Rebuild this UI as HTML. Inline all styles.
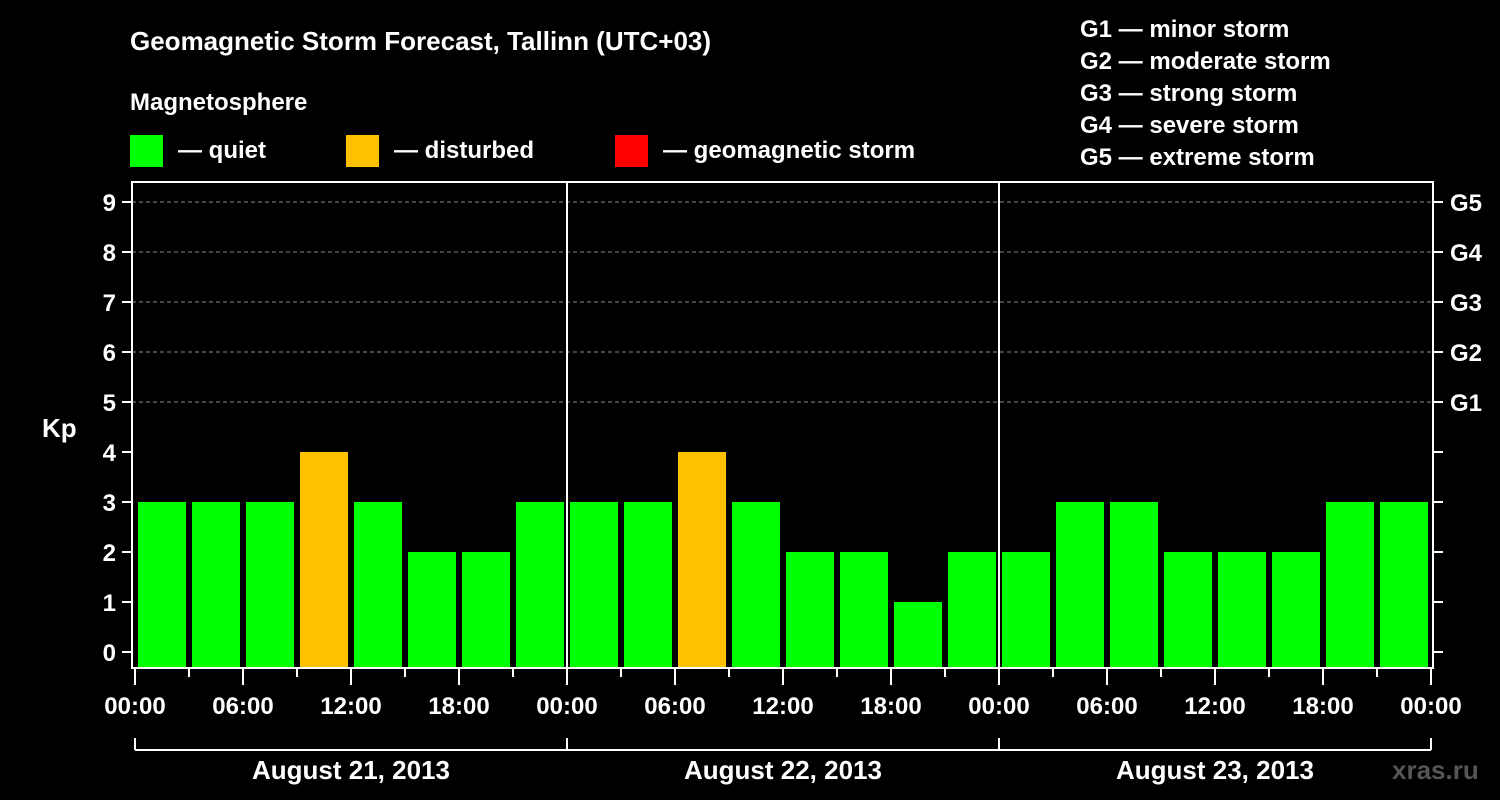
<!DOCTYPE html>
<html><head><meta charset="utf-8"><style>
html,body{margin:0;padding:0;background:#000;}
svg{display:block;font-family:"Liberation Sans",Arial,sans-serif;font-weight:bold;}
</style></head><body>
<svg id="c" width="1500" height="800" viewBox="0 0 1500 800">
<rect x="0" y="0" width="1500" height="800" fill="#000"/>
<text x="130" y="50" fill="#fff" font-size="26">Geomagnetic Storm Forecast, Tallinn (UTC+03)</text>
<text x="130" y="110" fill="#fff" font-size="24">Magnetosphere</text>
<g><rect x="130" y="135" width="33" height="32" fill="#00ff00"/><text x="178" y="158" fill="#fff" font-size="24">— quiet</text></g>
<g><rect x="346" y="135" width="33" height="32" fill="#ffc000"/><text x="394" y="158" fill="#fff" font-size="24">— disturbed</text></g>
<g><rect x="615" y="135" width="33" height="32" fill="#ff0000"/><text x="663" y="158" fill="#fff" font-size="24">— geomagnetic storm</text></g>
<g fill="#fff" font-size="24">
<text x="1080" y="37">G1 — minor storm</text>
<text x="1080" y="69">G2 — moderate storm</text>
<text x="1080" y="101">G3 — strong storm</text>
<text x="1080" y="133">G4 — severe storm</text>
<text x="1080" y="165">G5 — extreme storm</text>
</g>
<text x="42" y="437" fill="#fff" font-size="26">Kp</text>
<text x="1392" y="779" fill="#555" font-size="26">xras.ru</text>
<g id="plot"></g>
</svg>
<script>
const kpValues = [3,3,3,4,3,2,2,3, 3,3,4,3,2,2,1,2, 2,3,3,2,2,2,3,3];
const yTicks = [0,1,2,3,4,5,6,7,8,9];
const gLabels = ["G1","G2","G3","G4","G5"];
const gLevels = [5,6,7,8,9];
const timeLabels = ["00:00","06:00","12:00","18:00"];
const dayLabels = ["August 21, 2013","August 22, 2013","August 23, 2013"];

const NS="http://www.w3.org/2000/svg";
const g=document.getElementById('plot');
const X0=135, SLOT=54, Y0=652, UNIT=50, LEFT=132, RIGHT=1433, TOP=182, BOT=668;
const xOf=i=>X0+i*SLOT;
const yOf=v=>Y0-v*UNIT;
function mk(t,a,txt){const e=document.createElementNS(NS,t);for(const k in a)e.setAttribute(k,a[k]);if(txt!==undefined)e.textContent=txt;g.appendChild(e);return e;}

// gridlines
yTicks.forEach(v=>{if(v>=5){const l=mk('line',{x1:LEFT,x2:RIGHT,y1:yOf(v),y2:yOf(v),stroke:'#888','stroke-width':1,'stroke-dasharray':'4,3'});

}});
// bars
kpValues.forEach((v,i)=>{const c=v>=5?'#ff0000':(v>=4?'#ffc000':'#00ff00');
const r=mk('rect',{x:xOf(i)+3,y:yOf(v),width:48,height:BOT-yOf(v),fill:c});

});
// frame
const fr=mk('rect',{x:LEFT,y:TOP,width:RIGHT-LEFT,height:BOT-TOP,fill:'none',stroke:'#fff','stroke-width':2});


// day separators
for(let d=1;d<dayLabels.length;d++){const l=mk('line',{x1:xOf(d*8),x2:xOf(d*8),y1:TOP,y2:BOT,stroke:'#fff','stroke-width':2});

}
// y ticks
yTicks.forEach(v=>{const y=yOf(v);
mk('line',{x1:LEFT-10,x2:LEFT,y1:y,y2:y,stroke:'#fff','stroke-width':2});
mk('line',{x1:RIGHT,x2:RIGHT+10,y1:y,y2:y,stroke:'#fff','stroke-width':2});
const t=mk('text',{x:LEFT-16,y:y+9,fill:'#fff','font-size':24,'text-anchor':'end'},String(v));

});
gLabels.forEach((s,i)=>{const t=mk('text',{x:1450,y:yOf(gLevels[i])+9,fill:'#fff','font-size':24},s);

});
// x ticks
for(let i=0;i<=kpValues.length;i++){const x=xOf(i);const major=i%2===0;
mk('line',{x1:x,x2:x,y1:BOT,y2:BOT+(major?17:9),stroke:'#fff','stroke-width':2});
if(major){const t=mk('text',{x:x,y:714,fill:'#fff','font-size':24,'text-anchor':'middle'},timeLabels[(i/2)%4]);

}}
// day brackets
mk('line',{x1:xOf(0),x2:xOf(24),y1:750,y2:750,stroke:'#fff','stroke-width':2});
for(let d=0;d<=dayLabels.length;d++){mk('line',{x1:xOf(d*8),x2:xOf(d*8),y1:738,y2:750,stroke:'#fff','stroke-width':2});}
dayLabels.forEach((s,d)=>{const t=mk('text',{x:xOf(d*8+4),y:779,fill:'#fff','font-size':26,'text-anchor':'middle'},s);

});
</script>
</body></html>
